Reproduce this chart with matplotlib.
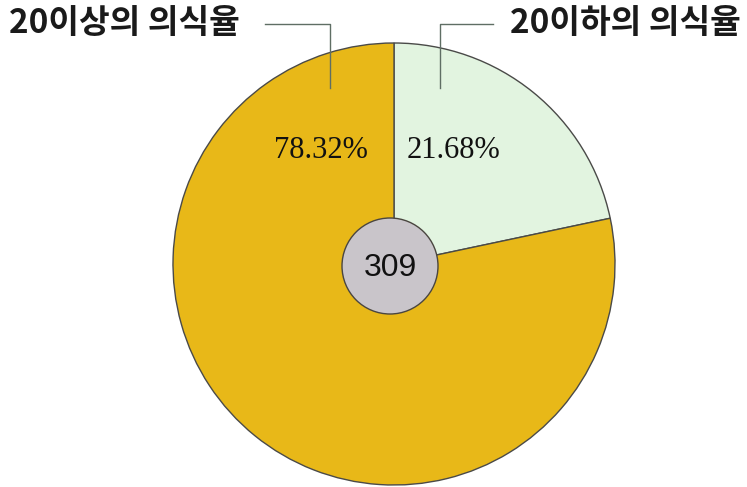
import matplotlib.pyplot as plt
from matplotlib.patches import Circle

# awareness split, total respondents
labels = ['20이하의 의식율', '20이상의 의식율']
shares = [21.68, 78.32]
colors = ['#e2f4e0', '#e8b818']
total = 309

W, H = 747, 487
fig = plt.figure(figsize=(W / 100, H / 100), dpi=100)
ax = fig.add_axes([0, 0, 1, 1])

cx, cy, r = 394, H - 264, 221

ax.pie(shares, colors=colors, startangle=90, counterclock=False,
       center=(cx, cy), radius=r, frame=True,
       wedgeprops=dict(edgecolor='#4a4a48', linewidth=1.0))
ax.set_xlim(0, W)
ax.set_ylim(0, H)
ax.set_aspect('equal')
ax.axis('off')

# center disk with the count
ax.add_patch(Circle((390, H - 266), 48, facecolor='#c9c5ca',
                    edgecolor='#4a4640', linewidth=1.0, zorder=5))
ax.text(390, H - 268, str(total), ha='center', va='center', fontsize=23,
        family='Liberation Sans', color='#111111', zorder=6)

# percentages inside the slices
ax.text(454, H - 150, f'{shares[0]:.2f}%', ha='center', va='center',
        fontsize=22, family='Liberation Serif', color='#111111')
ax.text(321, H - 150, f'{shares[1]:.2f}%', ha='center', va='center',
        fontsize=22, family='Liberation Serif', color='#111111')

# titles with leader lines
kr = ['Noto Sans CJK KR', 'DejaVu Sans']
ax.text(9, H - 23, labels[1], ha='left', va='center', fontsize=24,
        family=kr, weight='bold', color='#1a1a1a')
ax.text(741, H - 23, labels[0], ha='right', va='center', fontsize=24,
        family=kr, weight='bold', color='#1a1a1a')
ax.plot([265, 330, 330], [H - 24, H - 24, H - 88], color='#5f6e64', lw=1.0)
ax.plot([493, 440, 440], [H - 24, H - 24, H - 88], color='#5f6e64', lw=1.0)

fig.savefig('out.png', dpi=100, facecolor='white')
